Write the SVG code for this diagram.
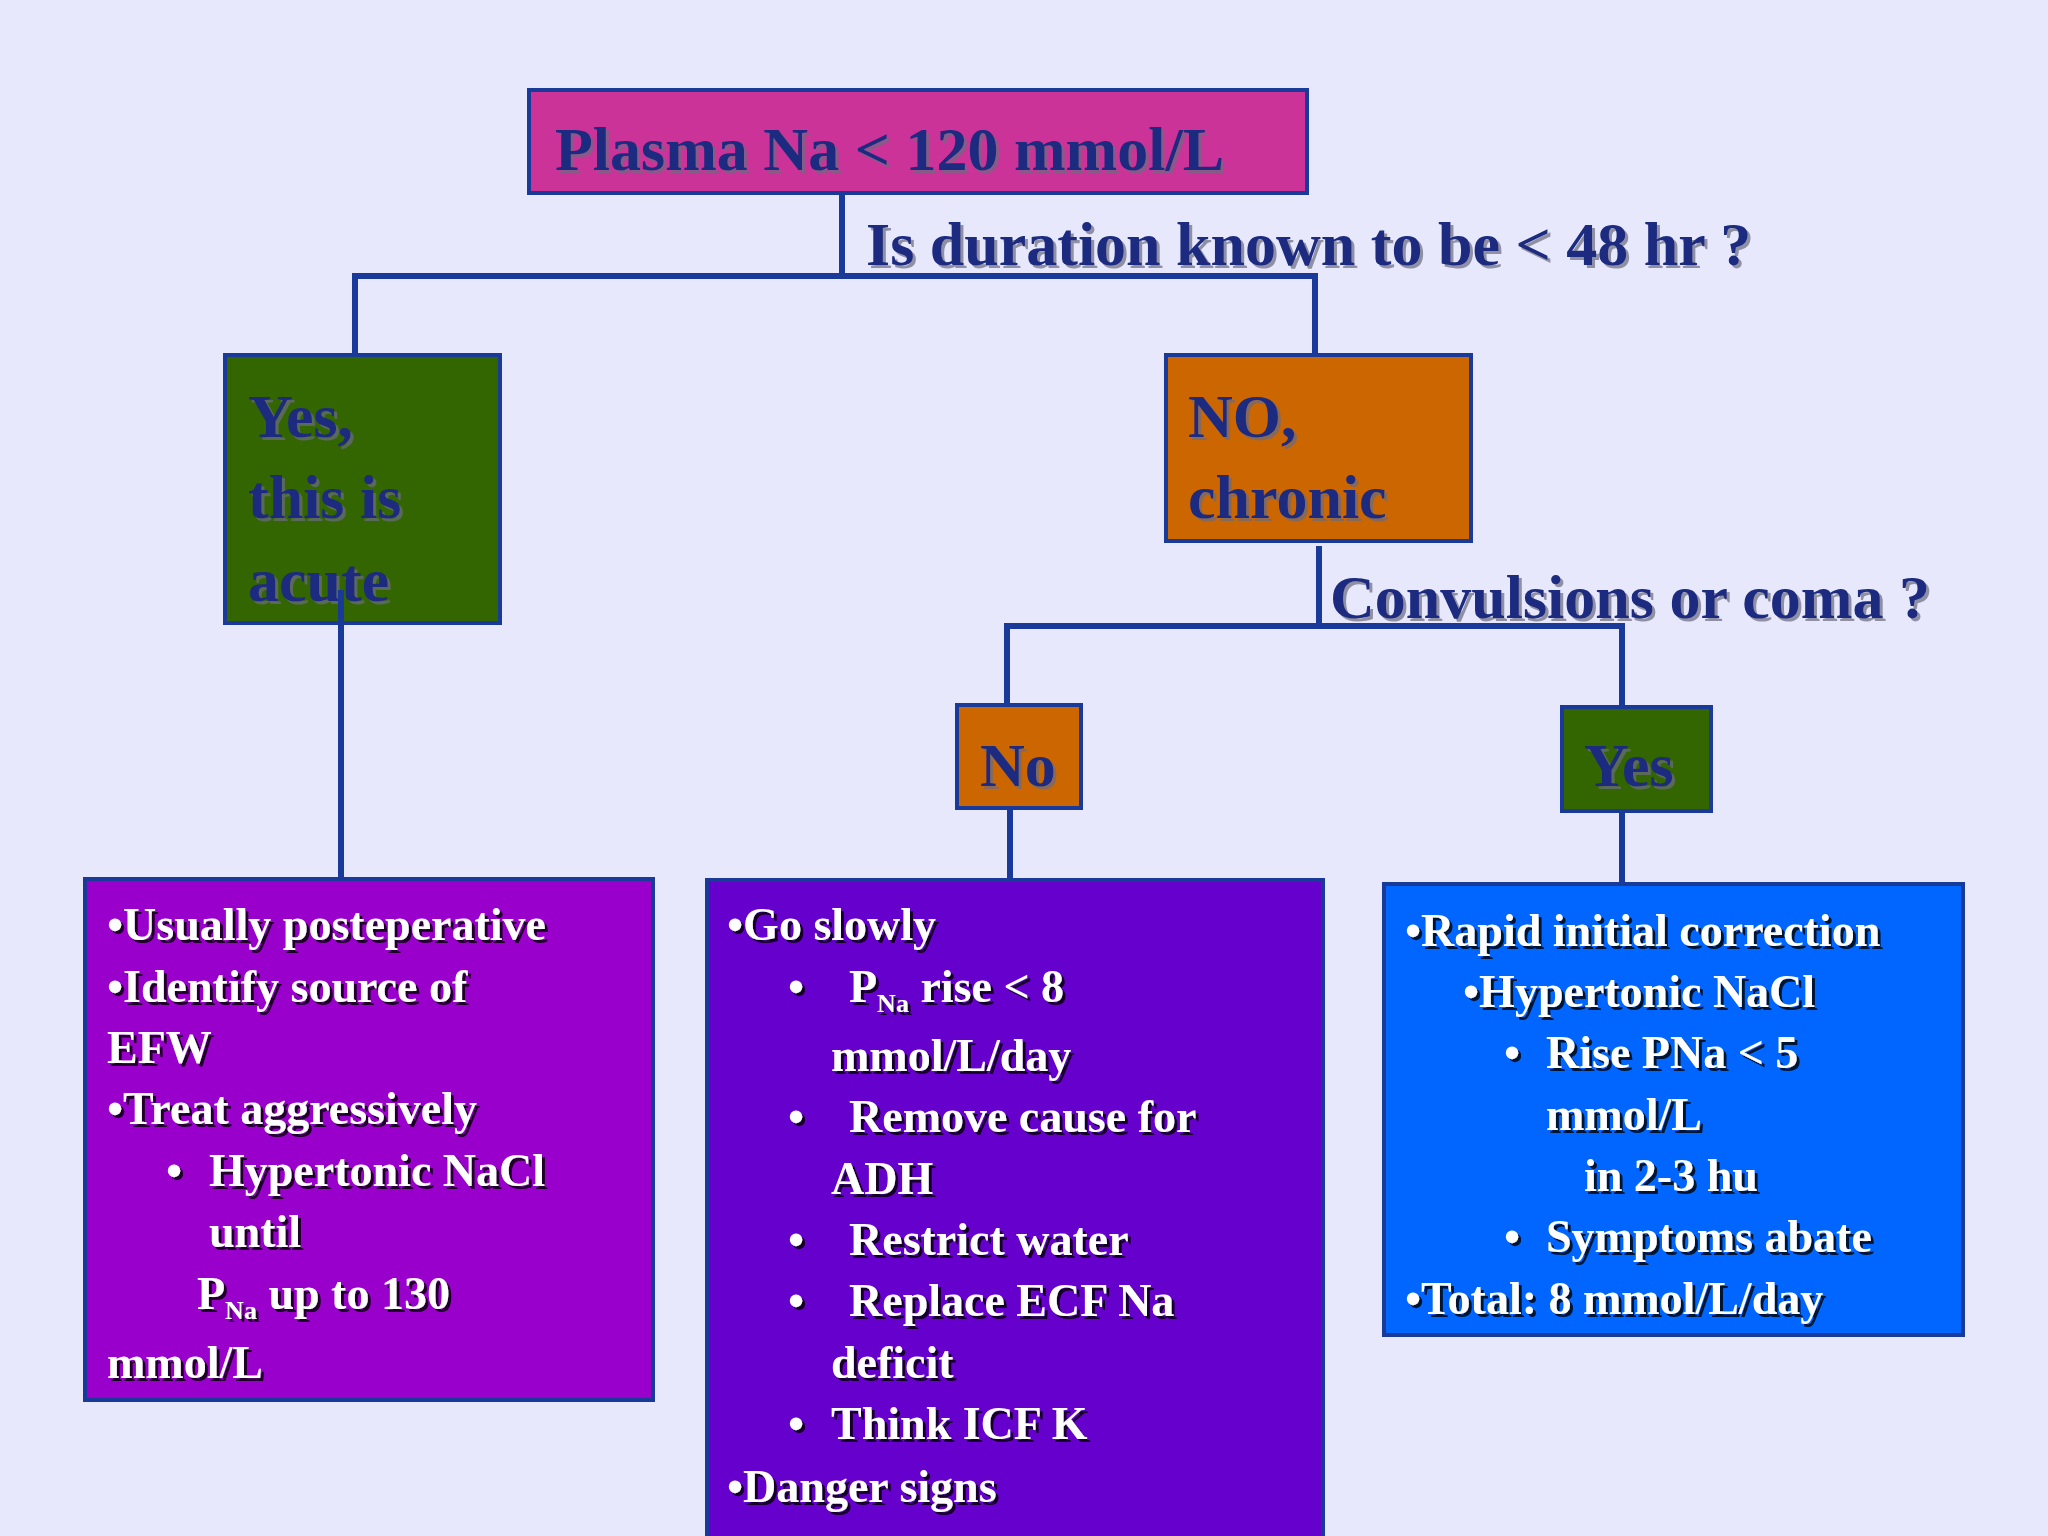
<svg xmlns="http://www.w3.org/2000/svg" width="2048" height="1536" viewBox="0 0 2048 1536">
<defs>
<filter id="sh" x="-5%" y="-20%" width="110%" height="140%"><feDropShadow dx="3" dy="3" stdDeviation="0.5" flood-color="#000" flood-opacity="0.8"/></filter>
<filter id="sh2" x="-5%" y="-20%" width="110%" height="140%"><feDropShadow dx="3" dy="3" stdDeviation="0.5" flood-color="#6a6a80" flood-opacity="0.7"/></filter>
</defs>
<style>
.box{stroke:#1a3a9a;stroke-width:4}
.h{font-family:"Liberation Serif",serif;font-weight:bold;font-size:62px;fill:#1a2a80;filter:url(#sh2)}
.t{font-family:"Liberation Serif",serif;font-weight:bold;font-size:46px;fill:#fff;filter:url(#sh)}
.s{font-size:26px}
.c{fill:none;stroke:#1a3a9a;stroke-width:6}
</style>
<rect width="2048" height="1536" fill="#E8E8FC"/>
<g id="connectors" class="c">
<path d="M842 193V276M355 355V276H1315V355"/>
<path d="M341 580V879"/>
<path d="M1319 546V626M1007 705V626H1622V707"/>
<path d="M1010 808V881M1622 811V885"/>
</g>
<g id="root"><rect class="box" x="529" y="90" width="778" height="103" fill="#CC3399"/><text class="h" x="555" y="170">Plasma Na &lt; 120 mmol/L</text></g>
<text class="h" x="866" y="265">Is duration known to be &lt; 48 hr ?</text>
<g id="acute"><rect class="box" x="225" y="355" width="275" height="268" fill="#336600"/><text class="h" x="248" y="437">Yes,</text><text class="h" x="248" y="518">this is</text><text class="h" x="248" y="601">acute</text></g>
<path d="M341 590V623" class="c"/>
<g id="chronic"><rect class="box" x="1166" y="355" width="305" height="186" fill="#CC6600"/><text class="h" x="1188" y="437">NO,</text><text class="h" x="1188" y="518">chronic</text></g>
<text class="h" x="1330" y="618">Convulsions or coma ?</text>
<g id="no"><rect class="box" x="957" y="705" width="124" height="103" fill="#CC6600"/><text class="h" x="980" y="786">No</text></g>
<g id="yes"><rect class="box" x="1562" y="707" width="149" height="104" fill="#336600"/><text class="h" x="1584" y="786">Yes</text></g>
<g id="acute-box"><rect class="box" x="85" y="879" width="568" height="521" fill="#9900CC"/>
<text class="t" x="107" y="940">•Usually posteperative</text>
<text class="t" x="107" y="1002">•Identify source of</text>
<text class="t" x="107" y="1063">EFW</text>
<text class="t" x="107" y="1124">•Treat aggressively</text>
<text class="t" x="166" y="1186">•</text><text class="t" x="209" y="1186">Hypertonic NaCl</text>
<text class="t" x="209" y="1247">until</text>
<text class="t" x="197" y="1309">P<tspan class="s" dy="10">Na</tspan><tspan dy="-10"> up to 130</tspan></text>
<text class="t" x="107" y="1378">mmol/L</text></g>
<g id="slow-box"><rect class="box" x="707" y="880" width="616" height="670" fill="#6600CC"/>
<text class="t" x="727" y="940">•Go slowly</text>
<text class="t" x="788" y="1002">•</text><text class="t" x="849" y="1002">P<tspan class="s" dy="10">Na</tspan><tspan dy="-10"> rise &lt; 8</tspan></text>
<text class="t" x="831" y="1071">mmol/L/day</text>
<text class="t" x="788" y="1132">•</text><text class="t" x="849" y="1132">Remove cause for</text>
<text class="t" x="831" y="1194">ADH</text>
<text class="t" x="788" y="1255">•</text><text class="t" x="849" y="1255">Restrict water</text>
<text class="t" x="788" y="1316">•</text><text class="t" x="849" y="1316">Replace ECF Na</text>
<text class="t" x="831" y="1378">deficit</text>
<text class="t" x="788" y="1439">•</text><text class="t" x="831" y="1439">Think ICF K</text>
<text class="t" x="727" y="1502">•Danger signs</text></g>
<g id="rapid-box"><rect class="box" x="1384" y="884" width="579" height="451" fill="#0066FF"/>
<text class="t" x="1405" y="946">•Rapid initial correction</text>
<text class="t" x="1463" y="1007">•Hypertonic NaCl</text>
<text class="t" x="1504" y="1068">•</text><text class="t" x="1546" y="1068">Rise PNa &lt; 5</text>
<text class="t" x="1546" y="1130">mmol/L</text>
<text class="t" x="1584" y="1191">in 2-3 hu</text>
<text class="t" x="1504" y="1252">•</text><text class="t" x="1546" y="1252">Symptoms abate</text>
<text class="t" x="1405" y="1314">•Total: 8 mmol/L/day</text></g>
</svg>
